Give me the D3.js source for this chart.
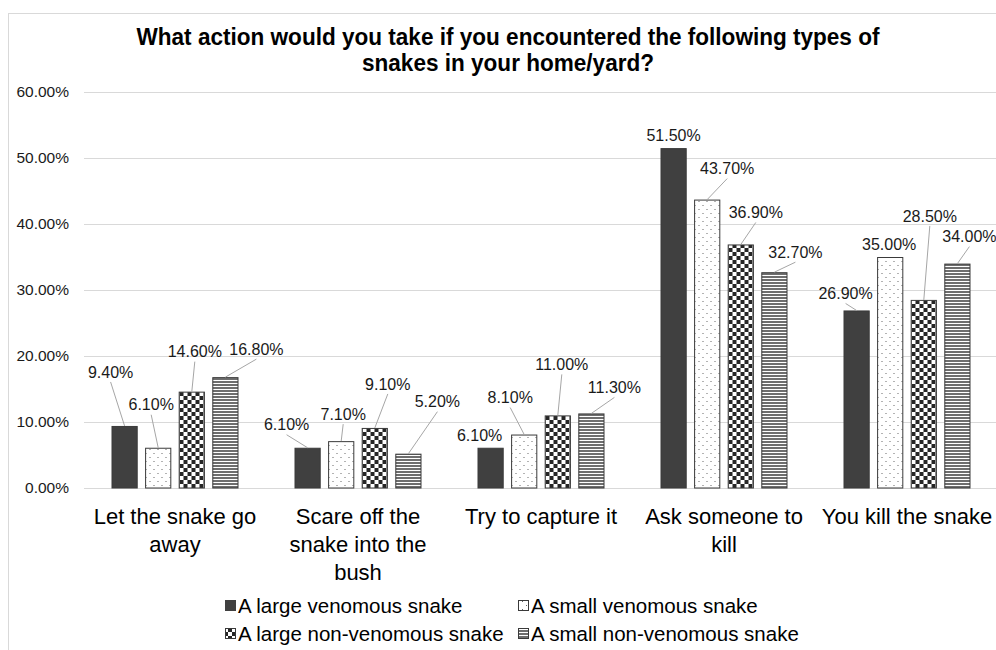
<!DOCTYPE html>
<html>
<head>
<meta charset="utf-8">
<script src="https://cdn.jsdelivr.net/npm/d3@7"></script>
<style>
  html, body { margin: 0; padding: 0; background: #fff; }
  svg { display: block; }
</style>
</head>
<body>
<svg id="chart" width="996" height="650"></svg>
<script>
// ---------- data ----------
const categories = ["Let the snake go away", "Scare off the snake into the bush", "Try to capture it", "Ask someone to kill", "You kill the snake"];
const seriesNames = ["A large venomous snake", "A small venomous snake", "A large non-venomous snake", "A small non-venomous snake"];
const largeVenomous    = [0.094, 0.061, 0.061, 0.515, 0.269];
const smallVenomous    = [0.061, 0.071, 0.081, 0.437, 0.350];
const largeNonVenomous = [0.146, 0.091, 0.110, 0.369, 0.285];
const smallNonVenomous = [0.168, 0.052, 0.113, 0.327, 0.340];
const yTicks = [0, 0.1, 0.2, 0.3, 0.4, 0.5, 0.6];
const titleLines = ["What action would you take if you encountered the following types of", "snakes in your home/yard?"];

// ---------- layout (label placement, pixels relative to bar top centre) ----------
const labelOffsets = [
  [[-14, -54], [-21, -23], [-11, -12], [0, -13], [-11, -17]],
  [[-7, -43], [2, -27], [-14, -37], [20, -31], [-1, -13]],
  [[3, -40], [13, -44], [4, -51], [15, -32], [6, -84]],
  [[31, -28], [29, -52], [23, -26], [21, -20], [12, -27]]
];
const noLeader = [[false, false, true, true, false], [false, false, false, false, true], [false, false, false, false, false], [false, false, false, false, false]];

const seriesValues = [largeVenomous, smallVenomous, largeNonVenomous, smallNonVenomous];

const svg = d3.select("#chart");
const FONT = "'Liberation Sans', Arial, sans-serif";

// patterns
const defs = svg.append("defs");
const pDots = defs.append("pattern").attr("id", "pDots").attr("patternUnits", "userSpaceOnUse").attr("width", 8).attr("height", 8);
pDots.append("rect").attr("width", 8).attr("height", 8).attr("fill", "#fff");
pDots.append("rect").attr("x", 2).attr("y", 1).attr("width", 1).attr("height", 1).attr("fill", "#666");
pDots.append("rect").attr("x", 6).attr("y", 5).attr("width", 1).attr("height", 1).attr("fill", "#666");
const pCheck = defs.append("pattern").attr("id", "pCheck").attr("patternUnits", "userSpaceOnUse").attr("width", 8).attr("height", 8);
pCheck.append("rect").attr("width", 8).attr("height", 8).attr("fill", "#fff");
pCheck.append("rect").attr("x", 0).attr("y", 0).attr("width", 4).attr("height", 4).attr("fill", "#262626");
pCheck.append("rect").attr("x", 4).attr("y", 4).attr("width", 4).attr("height", 4).attr("fill", "#262626");
const pStripe = defs.append("pattern").attr("id", "pStripe").attr("patternUnits", "userSpaceOnUse").attr("width", 8).attr("height", 3);
pStripe.append("rect").attr("width", 8).attr("height", 3).attr("fill", "#fff");
pStripe.append("rect").attr("x", 0).attr("y", 0).attr("width", 8).attr("height", 2).attr("fill", "#6e6e6e");

const fills = ["#404040", "url(#pDots)", "url(#pCheck)", "url(#pStripe)"];

// chart border
svg.append("rect").attr("x", 8.5).attr("y", 13.5).attr("width", 1000).attr("height", 700)
  .attr("fill", "none").attr("stroke", "#d9d9d9").attr("stroke-width", 1);

// title (horizontally condensed like the original)
svg.append("g").attr("transform", "translate(508,0) scale(0.94,1)")
  .append("text").attr("x", 0).attr("y", 45).attr("text-anchor", "middle")
  .attr("font-family", FONT)
  .attr("font-weight", "bold").attr("font-size", 24).attr("fill", "#000")
  .selectAll("tspan").data(titleLines).join("tspan")
  .attr("x", 0).attr("dy", (d, i) => i === 0 ? 0 : 26).text(d => d);

// scales
const x0 = d3.scaleBand().domain(categories).range([83.5, 998.5]);
const x1 = d3.scaleBand().domain(seriesNames).range([28, 155]).paddingInner(0.22);
const y = d3.scaleLinear().domain([0, 0.6]).range([488, 92]);

// gridlines
const grid = svg.append("g").attr("transform", "translate(84,0)")
  .call(d3.axisLeft(y).tickValues(yTicks).tickSize(-912).tickFormat(""));
grid.select(".domain").remove();
grid.selectAll("line").attr("stroke", "#d9d9d9").attr("stroke-width", 1);

// y axis labels
const yAxis = svg.append("g").attr("transform", "translate(84,0)")
  .call(d3.axisLeft(y).tickValues(yTicks).tickSize(0).tickPadding(15).tickFormat(d3.format(".2%")));
yAxis.select(".domain").remove();
yAxis.selectAll("text").attr("font-family", FONT).attr("font-size", 15.5).attr("fill", "#1a1a1a");

// bars
const groups = svg.append("g").selectAll("g").data(categories).join("g")
  .attr("transform", d => `translate(${x0(d)},0)`);
seriesNames.forEach((s, si) => {
  groups.append("rect")
    .attr("x", x1(s) + 0.5)
    .attr("y", (d, ci) => y(seriesValues[si][ci]) + 0.5)
    .attr("width", x1.bandwidth() - 1)
    .attr("height", (d, ci) => y(0) - y(seriesValues[si][ci]) - 0.5)
    .attr("fill", fills[si])
    .attr("stroke", "#3a3a3a").attr("stroke-width", 1);
});

// data labels + leader lines
const lab = svg.append("g");
seriesNames.forEach((s, si) => {
  categories.forEach((c, ci) => {
    const v = seriesValues[si][ci];
    const cx = x0(c) + x1(s) + x1.bandwidth() / 2;
    const ty = y(v);
    const [dx, dy] = labelOffsets[si][ci];
    const lx = cx + dx, ly = ty + dy;
    if (!noLeader[si][ci]) {
      lab.append("line").attr("x1", lx).attr("y1", ly + 10).attr("x2", cx).attr("y2", ty)
        .attr("stroke", "#a6a6a6").attr("stroke-width", 1);
    }
    lab.append("text").attr("x", lx).attr("y", ly).attr("dy", "0.35em")
      .attr("text-anchor", "middle").attr("font-family", FONT).attr("font-size", 16)
      .attr("fill", "#1a1a1a").text(d3.format(".2%")(v));
  });
});

// category labels with wrapping
const ctx = document.createElement("canvas").getContext("2d");
ctx.font = "22px 'Liberation Sans'";
function wrap(text, maxW) {
  const words = text.split(" ");
  const lines = [];
  let cur = "";
  words.forEach(w => {
    const t = cur ? cur + " " + w : w;
    if (ctx.measureText(t).width > maxW && cur) { lines.push(cur); cur = w; }
    else cur = t;
  });
  if (cur) lines.push(cur);
  return lines;
}
const catG = svg.append("g");
categories.forEach(c => {
  const lines = wrap(c, 181);
  const t = catG.append("text").attr("text-anchor", "middle").attr("font-family", FONT)
    .attr("font-size", 22).attr("fill", "#000");
  lines.forEach((l, i) => {
    t.append("tspan").attr("x", x0(c) + x0.bandwidth() / 2).attr("y", 524 + i * 28).text(l);
  });
});

// legend (2 x 2 grid)
const legendPos = [[225, 606], [518, 606], [225, 634], [518, 634]];
const leg = svg.append("g");
seriesNames.forEach((s, si) => {
  const [lx, ly] = legendPos[si];
  leg.append("rect").attr("x", lx + 0.5).attr("y", ly - 5.5).attr("width", 10).attr("height", 10)
    .attr("fill", fills[si]).attr("stroke", si === 0 ? "#404040" : "#3a3a3a").attr("stroke-width", 1);
  leg.append("text").attr("x", lx + 13).attr("y", ly).attr("dy", "0.35em")
    .attr("font-family", FONT).attr("font-size", 20.5).attr("fill", "#000").text(s);
});
</script>
</body>
</html>
